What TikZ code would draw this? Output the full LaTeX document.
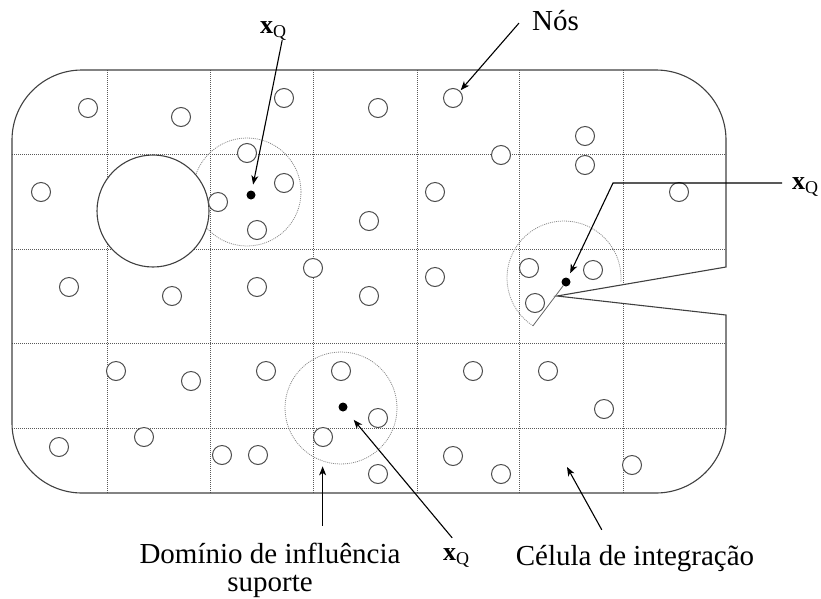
\documentclass[tikz,border=0pt]{standalone}
\usepackage{fontspec}
\setmainfont{Liberation Serif}
\usetikzlibrary{arrows.meta}

\newcommand{\xQ}{{\fontsize{26}{26}\selectfont\bfseries x}\raisebox{-4pt}{\fontsize{18}{18}\selectfont Q}}

\begin{document}
\begin{tikzpicture}[x=1pt, y=-1pt,
        outline/.style={draw=black!75, line width=1.1pt},
        grid/.style={draw=black!65, line width=0.7pt, dash pattern=on 1pt off 1pt},
        support/.style={draw=black!45, line width=0.8pt, dash pattern=on 1pt off 1pt},
        no/.style={circle, draw=black!70, line width=1pt, fill=white, minimum size=19pt, inner sep=0pt},
        dot/.style={circle, fill=black, minimum size=9pt, inner sep=0pt},
        lbl/.style={inner sep=0pt, font=\fontsize{29}{28}\selectfont},
        arr/.style={draw=black, line width=1.1pt, -{Stealth[length=9pt, width=7pt, inset=2.5pt]}},
        ]
    \useasboundingbox (0,0) rectangle (821,598);

    % integration cells
    \begin{scope}
        \clip (82,70) -- (656,70) arc[start angle=270, end angle=360, radius=70]
            -- (726,267) -- (557,296) -- (726,315)
            -- (726,423) arc[start angle=0, end angle=90, radius=70]
            -- (82,493) arc[start angle=90, end angle=180, radius=70]
            -- (12,140) arc[start angle=180, end angle=270, radius=70] -- cycle;
        \foreach \gx in {107,210,313,417,519,623}
            \draw[grid] (\gx,60) -- (\gx,500);
        \foreach \gy in {154,249,343,428}
            \draw[grid] (0,\gy) -- (740,\gy);
    \end{scope}

    % support domains
    \node[support, circle, minimum size=108pt] (s1) at (247,192) {};
    \node[support, circle, minimum size=112pt] (s2) at (341,408) {};
    \coordinate (c3) at (564,278);
    \path (c3) ++(123:57) coordinate (r3);
    \draw[support] (r3) arc[start angle=123, end angle=364, radius=57];

    % hole and boundary
    \node[outline, circle, fill=white, minimum size=112pt] (hole) at (153,211) {};
    \draw[outline] (82,70) -- (656,70) arc[start angle=270, end angle=360, radius=70]
        -- (726,267) -- (557,296) -- (726,315)
        -- (726,423) arc[start angle=0, end angle=90, radius=70]
        -- (82,493) arc[start angle=90, end angle=180, radius=70]
        -- (12,140) arc[start angle=180, end angle=270, radius=70] -- cycle;

    % nodes
    \foreach \px/\py [count=\i] in {88/108, 181/117, 284/98, 378/108, 453/98,
            247/153, 284/183, 218/202, 257/230, 41/192, 369/221,
            69/287, 172/296, 257/287, 313/268, 369/296,
            585/136, 501/155, 585/165, 435/192, 679/192,
            529/268, 593/270, 535/303, 435/277,
            116/371, 191/381, 266/371, 341/371, 378/418, 323/437,
            59/447, 144/437, 222/455, 258/455, 378/474,
            473/371, 548/371, 604/409, 453/456, 501/474, 632/465}
        \node[no] (n\i) at (\px,\py) {};

    % quadrature points
    \node[dot] (q1) at (251,195) {};
    \node[dot] (q2) at (343,407) {};
    \node[dot] (q3) at (566,282) {};
    \draw[outline, draw=black!60, line width=0.8pt] (r3) -- (q3);

    % labels
    \node[lbl, anchor=base west] (ln) at (532,30) {Nós};
    \node[lbl, anchor=base west] (lq1) at (260,33) {\xQ};
    \node[lbl, anchor=base west, inner xsep=10pt] (lq3) at (782,189) {\xQ};
    \node[lbl, anchor=base west] (lq2) at (443,560) {\xQ};
    \node[lbl, align=center] (ld) at (270,570) {Domínio de influência\\suporte};
    \node[lbl, anchor=base] (lc) at (635,565) {Célula de integração};
    \coordinate (b3) at (613,183);
    \coordinate (cell) at (567,467);

    \draw[arr, shorten >=1pt] ([xshift=-13pt, yshift=-3pt]ln.west) -- (n5.north east);
    \draw[arr, shorten >=6pt] ([xshift=9pt]lq1.south) -- (q1);
    \draw[arr, shorten >=5pt] (b3 -| lq3.west) -- (b3) -- (q3);
    \draw[arr, shorten >=12pt] ([xshift=-4pt, yshift=10pt]lq2.north) -- (q2);
    \draw[arr, shorten <=17pt, shorten >=5pt] (ld.north -| s2.251) -- (s2.251);
    \draw[arr, shorten <=17pt] ([xshift=-25pt]lc.north) -- (cell);
\end{tikzpicture}
\end{document}
